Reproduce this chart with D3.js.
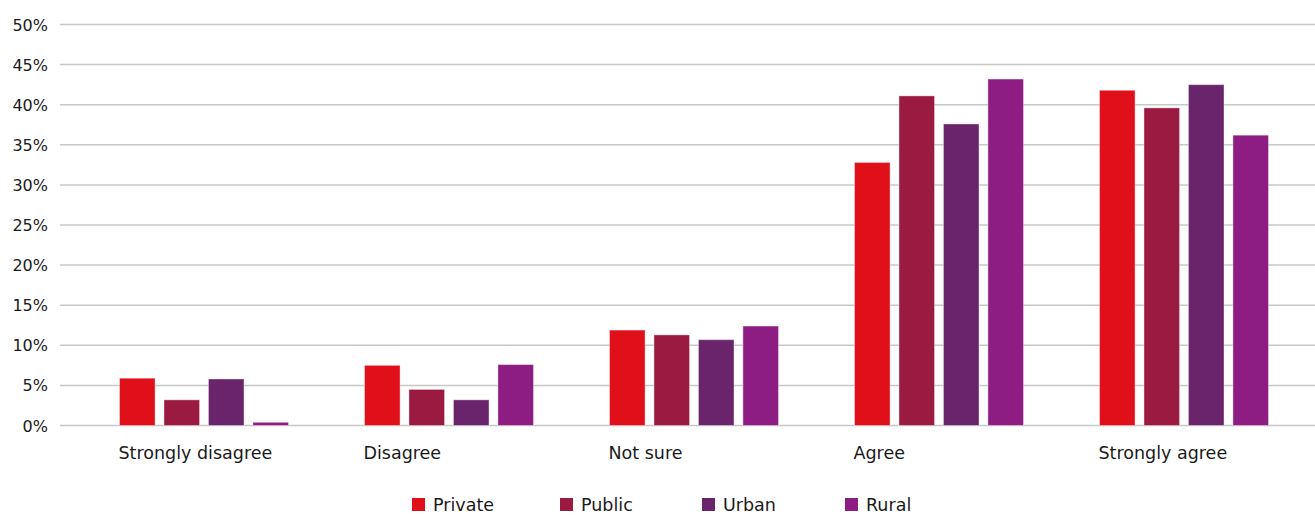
<!DOCTYPE html>
<html>
<head>
  <script src="https://d3js.org/d3.v7.min.js"></script>
  <style>
    body { margin: 0; background: #fff; overflow: hidden; }
    svg { display: block; }
    svg text { font-family: "DejaVu Sans", sans-serif; fill: #1a1a1a; }
  </style>
</head>
<body>
  <div id="chart"></div>
  <script>
    // answers along the x axis
    var categories = ["Strongly disagree", "Disagree", "Not sure", "Agree", "Strongly agree"];
    var seriesNames = ["Private", "Public", "Urban", "Rural"];
    var seriesColors = ["#e0101a", "#9b1a42", "#6a246c", "#8d1d82"];

    // percent per answer, one list per series
    var privateVals = [5.9, 7.5, 11.9, 32.8, 41.8];
    var publicVals  = [3.2, 4.5, 11.3, 41.1, 39.6];
    var urbanVals   = [5.8, 3.2, 10.7, 37.6, 42.5];
    var ruralVals   = [0.4, 7.6, 12.4, 43.2, 36.2];

    var yTicks = [0, 5, 10, 15, 20, 25, 30, 35, 40, 45, 50];

    var W = 1315, H = 516;
    var svg = d3.select("#chart").append("svg")
      .attr("width", W).attr("height", H);

    var allVals = [privateVals, publicVals, urbanVals, ruralVals];

    var y = d3.scaleLinear().domain([0, 50]).range([425.5, 24.5]);
    var x0 = d3.scaleBand().domain(categories).range([81.5, 1306.5]);
    var x1 = d3.scaleBand().domain(seriesNames).range([0, 169]).paddingInner(0.2);

    // grid lines
    svg.append("g")
      .selectAll("line")
      .data(yTicks)
      .join("line")
      .attr("x1", 60).attr("x2", W)
      .attr("y1", d => y(d)).attr("y2", d => y(d))
      .attr("stroke", "#c8c8c8")
      .attr("stroke-width", 1.5);

    // y labels
    svg.append("g")
      .selectAll("text")
      .data(yTicks)
      .join("text")
      .attr("x", 48)
      .attr("y", d => y(d) + 6)
      .attr("text-anchor", "end")
      .style("font-size", "16px")
      .text(d => d + "%");

    // bars
    var groups = svg.append("g")
      .selectAll("g")
      .data(categories)
      .join("g")
      .attr("transform", d => "translate(" + (x0(d) + x0.bandwidth() / 2 - 84.5) + ",0)");

    groups.selectAll("rect")
      .data((c, i) => seriesNames.map((s, j) => ({ s: s, j: j, v: allVals[j][i] })))
      .join("rect")
      .attr("x", d => x1(d.s))
      .attr("y", d => y(d.v))
      .attr("width", x1.bandwidth())
      .attr("height", d => y(0) - y(d.v))
      .attr("fill", d => seriesColors[d.j])
      .attr("stroke", "#fff")
      .attr("stroke-opacity", 0.4)
      .attr("stroke-width", 1);

    // category labels, left aligned with first bar
    groups.append("text")
      .attr("x", -1)
      .attr("y", 459)
      .style("font-size", "17.5px")
      .text(d => d);

    // legend
    var legendX = [412, 560, 702, 845];
    var legend = svg.append("g")
      .selectAll("g")
      .data(seriesNames)
      .join("g")
      .attr("transform", (d, i) => "translate(" + legendX[i] + ",498)");
    legend.append("rect")
      .attr("width", 13).attr("height", 13)
      .attr("fill", (d, i) => seriesColors[i]);
    legend.append("text")
      .attr("x", 21).attr("y", 13)
      .style("font-size", "17.5px")
      .text(d => d);
  </script>
</body>
</html>
